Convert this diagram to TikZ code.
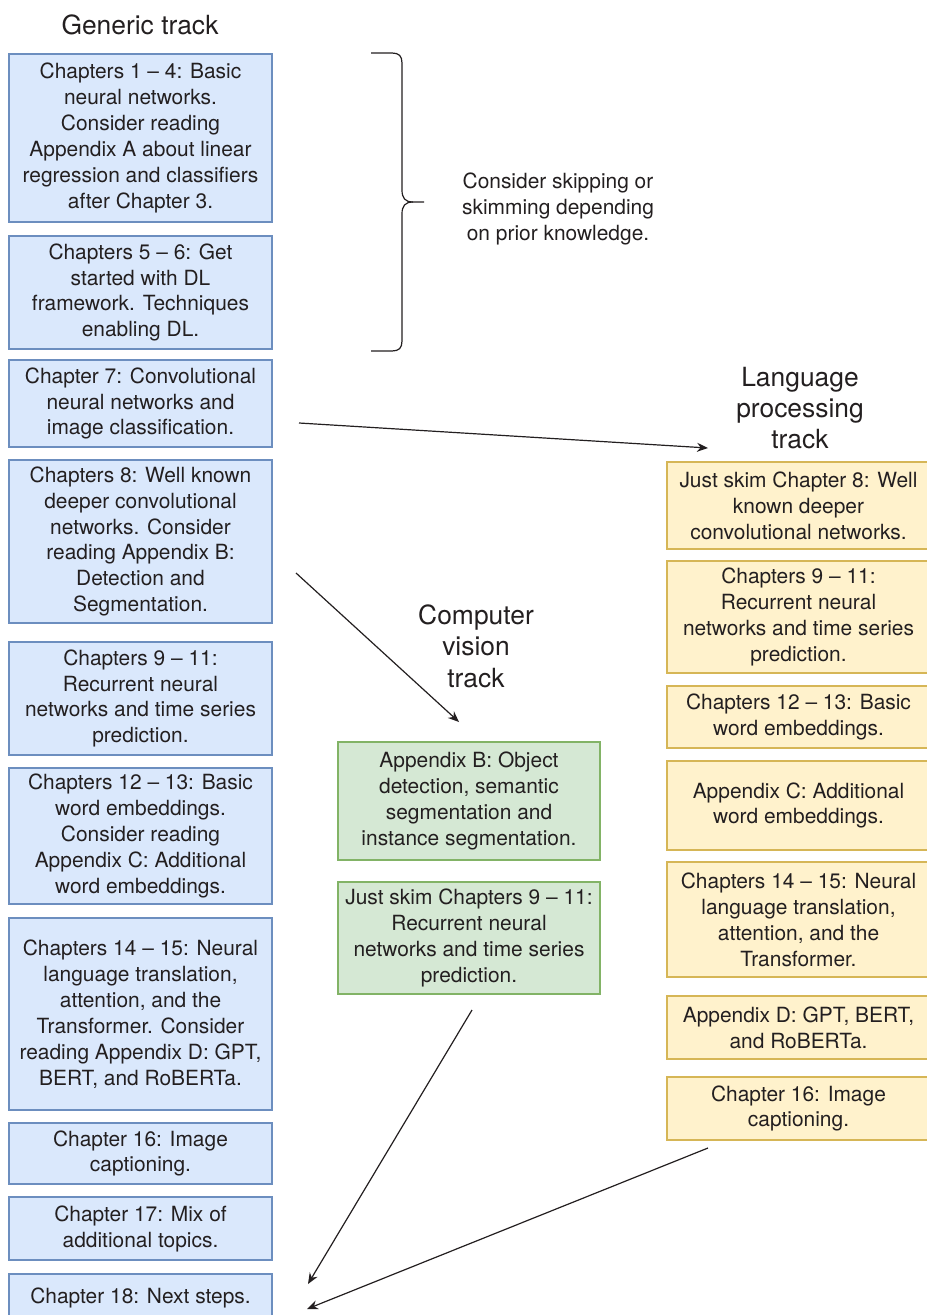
\documentclass[tikz,border=0pt]{standalone}
\usepackage{fontspec}
\setmainfont{TeX Gyre Heros}
\usetikzlibrary{arrows.meta}
\definecolor{txt}{HTML}{231F20}
\definecolor{bluefill}{HTML}{DAE8FC}
\definecolor{bluedraw}{HTML}{6C8EBF}
\definecolor{greenfill}{HTML}{D5E8D4}
\definecolor{greendraw}{HTML}{82B366}
\definecolor{yellowfill}{HTML}{FFF2CC}
\definecolor{yellowdraw}{HTML}{D6B656}
\tikzset{
  box/.style={rectangle, line width=1.6bp, inner sep=0pt, align=center, text=txt,
    font=\fontsize{21}{26}\selectfont},
  bluebox/.style={box, fill=bluefill, draw=bluedraw},
  greenbox/.style={box, fill=greenfill, draw=greendraw},
  yellowbox/.style={box, fill=yellowfill, draw=yellowdraw},
  title/.style={align=center, text=txt, inner sep=0pt, font=\fontsize{26.5}{31.5}\selectfont},
  note/.style={align=center, text=txt, inner sep=0pt, font=\fontsize{21}{26}\selectfont},
  arr/.style={draw=txt, line width=1.2bp, -{Stealth[length=11bp,width=9bp]}}
}
% box macro: name, style, left, top, right, bottom, text
\newcommand{\mybox}[7]{%
  \pgfmathsetmacro{\bw}{#5-#3}\pgfmathsetmacro{\bh}{#6-#4}%
  \node[#2, minimum width=\bw bp, minimum height=\bh bp] (#1) at ({(#3+#5)/2},{(#4+#6)/2}) {#7};}
\begin{document}
\begin{tikzpicture}[x=1bp,y=-1bp]
\useasboundingbox (0,0) rectangle (926,1315);
% titles
\node[title] (gt) at (140,25) {Generic track};
\node[title] (lt) at (800,408) {Language\\processing\\track};
\node[title] (ct) at (476,646) {Computer\\vision\\track};
% generic (blue)
\mybox{b1}{bluebox}{9}{54}{272}{222}{Chapters 1 – 4: Basic\\neural networks.\\Consider reading\\Appendix A about linear\\regression and classifiers\\after Chapter 3.}
\mybox{b2}{bluebox}{9}{236}{272}{349}{Chapters 5 – 6: Get\\started with DL\\framework. Techniques\\enabling DL.}
\mybox{b3}{bluebox}{9}{360}{272}{447}{Chapter 7: Convolutional\\neural networks and\\image classification.}
\mybox{b4}{bluebox}{9}{460}{272}{623}{Chapters 8: Well known\\deeper convolutional\\networks. Consider\\reading Appendix B:\\Detection and\\Segmentation.}
\mybox{b5}{bluebox}{9}{642}{272}{755}{Chapters 9 – 11:\\Recurrent neural\\networks and time series\\prediction.}
\mybox{b6}{bluebox}{9}{768}{272}{904}{Chapters 12 – 13: Basic\\word embeddings.\\Consider reading\\Appendix C: Additional\\word embeddings.}
\mybox{b7}{bluebox}{9}{918}{272}{1110}{Chapters 14 – 15: Neural\\language translation,\\attention, and the\\Transformer. Consider\\reading Appendix D: GPT,\\BERT, and RoBERTa.}
\mybox{b8}{bluebox}{9}{1123}{272}{1184}{Chapter 16: Image\\captioning.}
\mybox{b9}{bluebox}{9}{1197}{272}{1260}{Chapter 17: Mix of\\additional topics.}
\mybox{b10}{bluebox}{9}{1274}{272}{1322}{Chapter 18: Next steps.}
% computer vision (green)
\mybox{g1}{greenbox}{338}{742}{600}{860}{Appendix B: Object\\detection, semantic\\segmentation and\\instance segmentation.}
\mybox{g2}{greenbox}{338}{882}{600}{994}{Just skim Chapters 9 – 11:\\Recurrent neural\\networks and time series\\prediction.}
% language (yellow)
\mybox{y1}{yellowbox}{667}{462}{930}{549}{Just skim Chapter 8: Well\\known deeper\\convolutional networks.}
\mybox{y2}{yellowbox}{667}{561}{930}{673}{Chapters 9 – 11:\\Recurrent neural\\networks and time series\\prediction.}
\mybox{y3}{yellowbox}{667}{686}{930}{748}{Chapters 12 – 13: Basic\\word embeddings.}
\mybox{y4}{yellowbox}{667}{761}{930}{850}{Appendix C: Additional\\word embeddings.}
\mybox{y5}{yellowbox}{667}{862}{930}{977}{Chapters 14 – 15: Neural\\language translation,\\attention, and the\\Transformer.}
\mybox{y6}{yellowbox}{667}{996}{930}{1059}{Appendix D: GPT, BERT,\\and RoBERTa.}
\mybox{y7}{yellowbox}{667}{1077}{930}{1140}{Chapter 16: Image\\captioning.}
% brace and note
\draw[draw=txt, line width=1.2bp] (371,53) -- (392,53) .. controls (399,53) and (402,56) .. (402,63)
  -- (402,190) .. controls (402,198) and (405,202) .. (413,202) -- (424,202);
\draw[draw=txt, line width=1.2bp] (413,202) .. controls (405,202) and (402,206) .. (402,214)
  -- (402,341) .. controls (402,348) and (399,351) .. (392,351) -- (371,351);
\node[note] (nt) at (558,209) {Consider skipping or\\skimming depending\\on prior knowledge.};
% arrows
\coordinate (a1s) at (299,423); \coordinate (a1e) at (708,448);
\coordinate (a2s) at (296,573); \coordinate (a2e) at (459,722);
\coordinate (a3s) at (472,1010); \coordinate (a3e) at (308,1284);
\coordinate (a4s) at (708,1148); \coordinate (a4e) at (307,1309);
\draw[arr] (a1s) -- (a1e);
\draw[arr] (a2s) -- (a2e);
\draw[arr] (a3s) -- (a3e);
\draw[arr] (a4s) -- (a4e);
\end{tikzpicture}
\end{document}
